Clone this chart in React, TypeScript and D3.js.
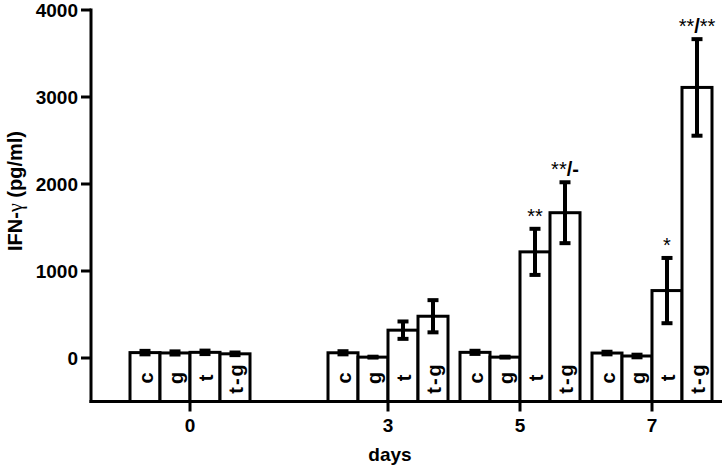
import React from "react";
import * as d3 from "d3";

const days = [0, 3, 5, 7];
const groups = ["c", "g", "t", "t-g"];
const means: Record<string, number[]> = {
  c: [62, 60, 65, 57],
  g: [58, 10, 10, 23],
  t: [65, 320, 1220, 775],
  "t-g": [48, 480, 1670, 3110],
};
const errors: Record<string, number[]> = {
  c: [20, 18, 18, 15],
  g: [18, 5, 5, 15],
  t: [20, 100, 265, 375],
  "t-g": [15, 185, 350, 555],
};
const yTicks = [0, 1000, 2000, 3000, 4000];
const annotations = [
  { day: 5, group: "t", stars: "**", tail: "" },
  { day: 5, group: "t-g", stars: "**", tail: "/-" },
  { day: 7, group: "t", stars: "*", tail: "" },
  { day: 7, group: "t-g", stars: "**", tail: "/**" },
];

const W = 722;
const H = 467;
const FONT = "'Liberation Sans', Arial, sans-serif";

export default function App() {
  const x = d3.scaleLinear().domain([0, 7]).range([190, 652]);
  const y = d3.scaleLinear().domain([-500, 4000]).range([401.5, 10]);
  const barW = 30;
  const axisX = x(-1.5);
  const axisY = y(-500);

  const bars: any[] = [];
  days.forEach((d, di) => {
    groups.forEach((g, gi) => {
      const left = x(d) + (gi - 2) * barW;
      bars.push({ d, di, g, gi, left, v: means[g][di], e: errors[g][di] });
    });
  });

  return (
    <svg
      width={W}
      height={H}
      style={{ position: "fixed", left: 0, top: 0, background: "#fff" }}
      fontFamily={FONT}
    >
      <rect x={0} y={0} width={W} height={H} fill="#fff" />
      {bars.map((b, i) => (
        <g key={i}>
          <rect
            x={b.left}
            y={y(b.v)}
            width={barW}
            height={axisY - y(b.v)}
            fill="#fff"
            stroke="#000"
            strokeWidth={3}
          />
          <line
            x1={b.left + barW / 2}
            x2={b.left + barW / 2}
            y1={y(b.v + b.e)}
            y2={y(b.v - b.e)}
            stroke="#000"
            strokeWidth={4}
          />
          <line
            x1={b.left + barW / 2 - 5.5}
            x2={b.left + barW / 2 + 5.5}
            y1={y(b.v + b.e)}
            y2={y(b.v + b.e)}
            stroke="#000"
            strokeWidth={4}
          />
          <line
            x1={b.left + barW / 2 - 5.5}
            x2={b.left + barW / 2 + 5.5}
            y1={y(b.v - b.e)}
            y2={y(b.v - b.e)}
            stroke="#000"
            strokeWidth={4}
          />
          <text
            transform={`translate(${b.left + barW / 2 + 1},378) rotate(-90)`}
            textAnchor="middle"
            dominantBaseline="central"
            fontSize={20}
            fontWeight="bold"
            letterSpacing={b.g.length > 1 ? 2 : 0}
          >
            {b.g}
          </text>
        </g>
      ))}
      {annotations.map((a, i) => {
        const di = days.indexOf(a.day);
        const gi = groups.indexOf(a.group);
        const cx = x(a.day) + (gi - 2) * barW + barW / 2;
        const top = y(means[a.group][di] + errors[a.group][di]);
        return (
          <text key={i} x={cx} y={top - 6} textAnchor="middle" fontSize={20}>
            {a.stars}
            {a.tail ? <tspan fontWeight="bold">{a.tail.slice(0, 1)}</tspan> : null}
            {a.tail.length > 1 ? (
              <tspan fontWeight={a.tail.slice(1) === "-" ? "bold" : "normal"}>
                {a.tail.slice(1)}
              </tspan>
            ) : null}
          </text>
        );
      })}
      <line x1={axisX} x2={axisX} y1={y(4000) - 1.5} y2={axisY + 1.5} stroke="#000" strokeWidth={3} />
      {yTicks.map((t) => (
        <g key={t}>
          <line x1={axisX - 10} x2={axisX} y1={y(t)} y2={y(t)} stroke="#000" strokeWidth={3} />
          <text
            x={axisX - 13}
            y={y(t)}
            textAnchor="end"
            dominantBaseline="central"
            fontSize={19}
            fontWeight="bold"
          >
            {t}
          </text>
        </g>
      ))}
      <line x1={axisX - 1.5} x2={W} y1={axisY} y2={axisY} stroke="#000" strokeWidth={3} />
      {days.map((d) => (
        <g key={d}>
          <line x1={x(d)} x2={x(d)} y1={axisY} y2={axisY + 10} stroke="#000" strokeWidth={3} />
          <text x={x(d)} y={432} textAnchor="middle" fontSize={19} fontWeight="bold">
            {d}
          </text>
        </g>
      ))}
      <text x={390} y={461} textAnchor="middle" fontSize={19} fontWeight="bold">
        days
      </text>
      <text
        transform={`translate(22,191) rotate(-90)`}
        textAnchor="middle"
        fontSize={20}
        fontWeight="bold"
      >
        IFN-
        <tspan fontFamily="'Liberation Serif', 'DejaVu Serif', serif" fontWeight="normal">
          γ
        </tspan>{" "}
        (pg/ml)
      </text>
    </svg>
  );
}
